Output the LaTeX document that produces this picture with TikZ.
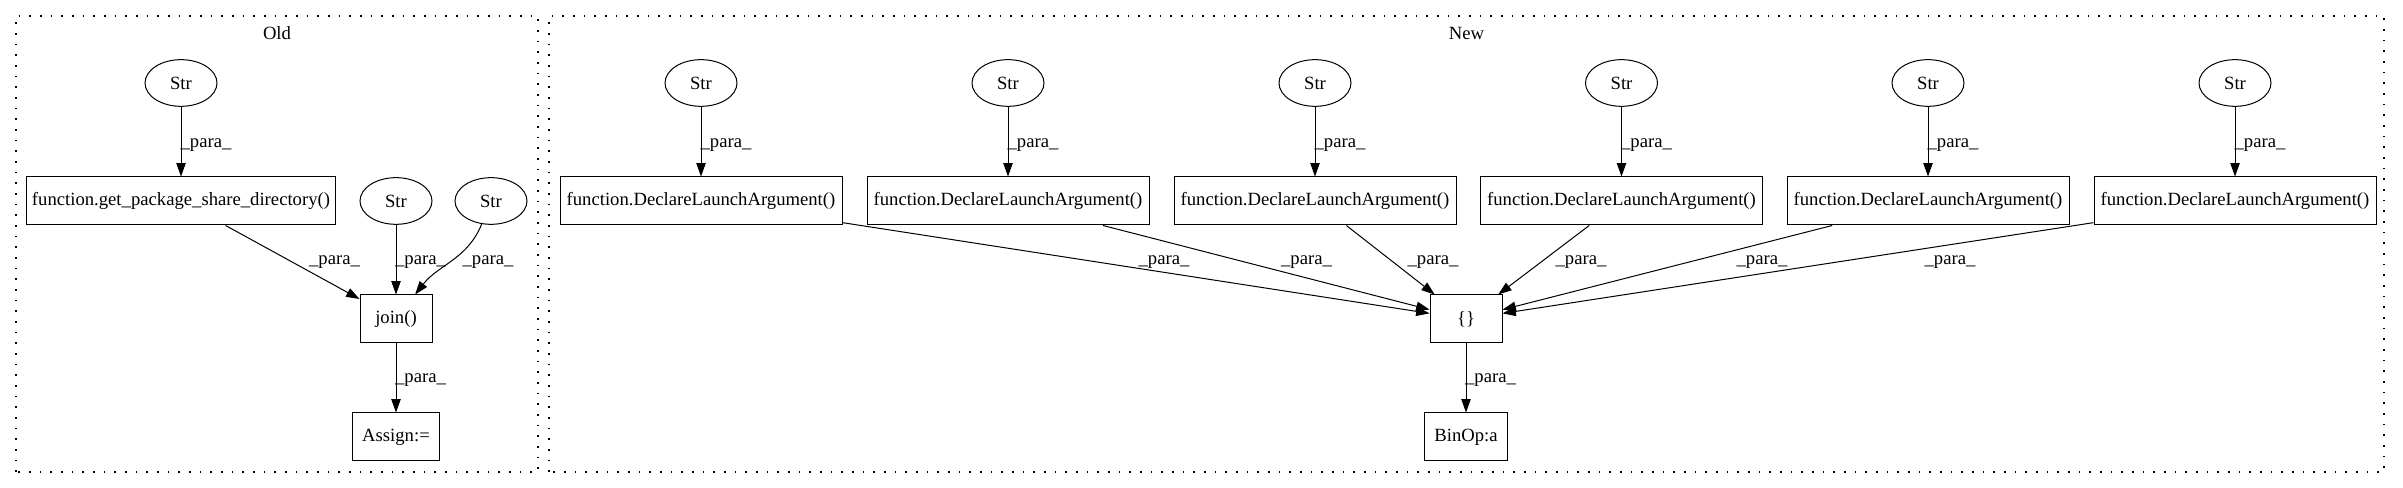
\documentclass[tikz,border=0pt]{standalone}
\usepackage{fontspec}
\setmainfont{Liberation Serif}
\usetikzlibrary{shapes.geometric,arrows.meta}
\begin{document}
\begin{tikzpicture}[x=0.75pt,y=0.75pt,
  every node/.style={font=\fontsize{14pt}{16pt}\selectfont},
  strnode/.style={draw, ellipse, minimum width=54pt, minimum height=35pt, inner sep=0pt, line width=0.75pt},
  boxnode/.style={draw, rectangle, minimum height=36pt, inner sep=0pt, line width=0.75pt},
  edge/.style={draw, line width=0.75pt, -{Triangle[length=10pt,width=7pt]}},
  lab/.style={inner sep=0pt},
  cluster/.style={draw, line width=1.2pt, dash pattern=on 1.3pt off 6.7pt}]
\useasboundingbox (0,0) rectangle (2403,488);
% clusters
\draw[cluster] (16,16) rectangle (538,472);
\draw[cluster] (549,16) rectangle (2384,472);
\node (oldt) at (277,455) {Old};
\node (newt) at (1466.5,455) {New};
% Old
\node[strnode] (os) at (181,405) {Str};
\node[boxnode, minimum width=231.75pt] (oget) at (181,287) {function.get\_package\_share\_directory()};
\node[strnode] (os2) at (396,287) {Str};
\node[strnode] (os3) at (491,287) {Str};
\node[boxnode, minimum width=54pt] (ojoin) at (396,169) {join()};
\node[boxnode, minimum width=65.6pt] (oassign) at (396,51) {Assign:=};
\draw[edge] (os) -- (oget);
\draw[edge] (oget) -- (ojoin);
\draw[edge] (os2) -- (ojoin);
\draw[edge] (os3) to[out=-112,in=52] (ojoin);
\draw[edge] (ojoin) -- (oassign);
\node[lab] (l1) at (206,343) {\_para\_};
\node[lab] (l2) at (334.5,226) {\_para\_};
\node[lab] (l3) at (420.5,226) {\_para\_};
\node[lab] (l4) at (488,226) {\_para\_};
\node[lab] (l5) at (420.5,108) {\_para\_};
% New
\node[boxnode, minimum width=54pt] (brace) at (1466,169) {\{\}};
\node[boxnode, minimum width=62pt] (binop) at (1466,51) {BinOp:a};
\draw[edge] (brace) -- (binop);
\node[lab] (lb) at (1490.5,108) {\_para\_};
\foreach \i/\x/\lx in {1/701/1164, 2/1008/1306.5, 3/1315/1433, 4/1621.5/1581, 5/1928/1762, 6/2235/1950} {
  \node[strnode] (ns\i) at (\x,405) {Str};
  \node[boxnode, minimum width=211.5pt] (nd\i) at (\x,287) {function.DeclareLaunchArgument()};
  \draw[edge] (ns\i) -- (nd\i);
  \draw[edge] (nd\i) -- (brace);
  \node[lab] (nls\i) at (\x+25,343) {\_para\_};
  \node[lab] (nld\i) at (\lx,226) {\_para\_};
}
\end{tikzpicture}
\end{document}
